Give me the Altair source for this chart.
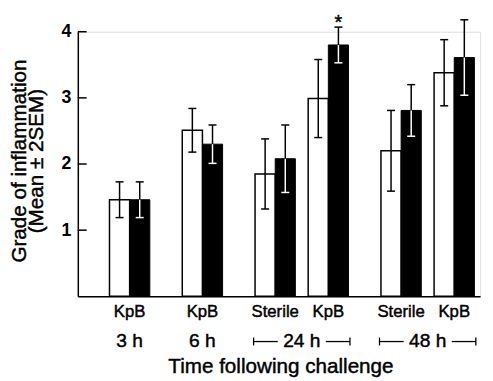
import altair as alt
import pandas as pd

# ---------------- data ----------------
time_points = ["3 h", "6 h", "24 h", "24 h", "48 h", "48 h"]
conditions = ["KpB", "KpB", "Sterile", "KpB", "Sterile", "KpB"]
open_mean = [1.46, 2.51, 1.85, 2.99, 2.20, 3.38]
open_err = [0.27, 0.33, 0.53, 0.59, 0.61, 0.50]
filled_mean = [1.46, 2.30, 2.08, 3.80, 2.81, 3.61]
filled_err = [0.27, 0.29, 0.51, 0.27, 0.39, 0.57]
significant = ["", "", "", "*", "", ""]
y_ticks = [1, 2, 3, 4]
y_title_lines = ["Grade of inflammation", "(Mean ± 2SEM)"]
x_title = "Time following challenge"

# ---------------- layout constants ----------------
GAP_BETWEEN = 1.0
GAP_WITHIN = 0.73
BAR_W = 0.277
CAP = 0.055
FONT = "Liberation Sans"
YTITLE_X = [-59, -41]
TXT_STROKE = 0.45

centers = []
pos = 0.0
for i, t in enumerate(time_points):
    if i == 0:
        pos = 1.0
    elif t == time_points[i - 1]:
        pos += GAP_WITHIN
    else:
        pos += GAP_BETWEEN
    centers.append(pos)

bars = []
errs = []
caps = []
for i, c in enumerate(centers):
    bars.append(dict(kind="open", x=c - BAR_W, x2=c, y=0, y2=open_mean[i]))
    bars.append(dict(kind="filled", x=c, x2=c + BAR_W, y=0, y2=filled_mean[i]))
    xo = c - BAR_W / 2
    xf = c + BAR_W / 2
    lo, hi = open_mean[i] - open_err[i], open_mean[i] + open_err[i]
    errs.append(dict(x=xo, y=lo, y2=hi, col="black"))
    caps.append(dict(x=xo - CAP, x2=xo + CAP, y=lo, col="black"))
    caps.append(dict(x=xo - CAP, x2=xo + CAP, y=hi, col="black"))
    lo, hi = filled_mean[i] - filled_err[i], filled_mean[i] + filled_err[i]
    errs.append(dict(x=xf, y=filled_mean[i], y2=hi, col="black"))
    errs.append(dict(x=xf, y=lo, y2=filled_mean[i], col="white"))
    caps.append(dict(x=xf - CAP, x2=xf + CAP, y=lo, col="white"))
    caps.append(dict(x=xf - CAP, x2=xf + CAP, y=hi, col="black"))

bars_df = pd.DataFrame(bars)
errs_df = pd.DataFrame(errs)
caps_df = pd.DataFrame(caps)
star_df = pd.DataFrame(dict(x=[c + BAR_W / 2 for c in centers],
                            y=[m + e for m, e in zip(filled_mean, filled_err)],
                            t=significant))
star_df = star_df[star_df.t != ""]
cond_df = pd.DataFrame(dict(x=centers, t=conditions))

single, groups = [], []
for t in dict.fromkeys(time_points):
    idx = [i for i, tt in enumerate(time_points) if tt == t]
    if len(idx) == 1:
        single.append(dict(x=centers[idx[0]], t=t))
    else:
        left = centers[idx[0]] - BAR_W - 0.02
        right = centers[idx[-1]] + BAR_W + 0.02
        groups.append(dict(left=left, right=right, mid=(left + right) / 2, t=t))
single_df = pd.DataFrame(single)
groups_df = pd.DataFrame(groups)
HALF = 0.33
seg_rows, end_rows = [], []
for g in groups:
    seg_rows.append(dict(x=g["left"], x2=g["mid"] - HALF))
    seg_rows.append(dict(x=g["mid"] + HALF, x2=g["right"]))
    end_rows.append(dict(x=g["left"]))
    end_rows.append(dict(x=g["right"]))
seg_df = pd.DataFrame(seg_rows)
end_df = pd.DataFrame(end_rows)
ticks_df = pd.DataFrame(dict(y=y_ticks))

W, H = 409, 269
xscale = alt.Scale(domain=[0.288, 5.815], nice=False, zero=False)
yscale = alt.Scale(domain=[0, 4], nice=False)

x_axis = alt.Axis(labels=False, ticks=False, grid=False, domainColor="black",
                  domainWidth=1.5, title=None)
y_axis = alt.Axis(values=y_ticks, format="d", ticks=False, grid=False, labelPadding=7,
                  labelFont=FONT, labelFontSize=18, labelFontWeight="bold",
                  labelColor="black",
                  domainColor="black", domainWidth=1.5, title=None)


def txt(df, size, **kw):
    return alt.Chart(df).mark_text(font=FONT, fontSize=size, color="black",
                                   stroke="black", strokeWidth=TXT_STROKE, **kw)


open_bars = alt.Chart(bars_df).transform_filter(alt.datum.kind == "open").mark_rect(
    fill="white", stroke="black", strokeWidth=1.5).encode(
    x=alt.X("x:Q", scale=xscale, axis=x_axis), x2="x2",
    y=alt.Y("y:Q", scale=yscale, axis=y_axis), y2="y2")
filled_bars = alt.Chart(bars_df).transform_filter(alt.datum.kind == "filled").mark_rect(
    fill="black", stroke="black", strokeWidth=1).encode(
    x="x:Q", x2="x2", y="y:Q", y2="y2")
err_lines = alt.Chart(errs_df).mark_rule(strokeWidth=1.5).encode(
    x="x:Q", y="y:Q", y2="y2", stroke=alt.Stroke("col:N", scale=None))
err_caps = alt.Chart(caps_df).mark_rule(strokeWidth=1.5).encode(
    x="x:Q", x2="x2", y="y:Q", stroke=alt.Stroke("col:N", scale=None))
stars = txt(star_df, 20, baseline="alphabetic", dy=2).encode(
    x="x:Q", y="y:Q", text="t:N")
yticks = alt.Chart(ticks_df).mark_rule(color="black", strokeWidth=1.5).encode(
    y="y:Q", x=alt.value(0), x2=alt.value(9))
cond_text = txt(cond_df, 17, baseline="middle").encode(
    x="x:Q", y=alt.value(285), text="t:N")
single_text = txt(single_df, 19.5, baseline="middle").encode(
    x="x:Q", y=alt.value(315), text="t:N")
group_text = txt(groups_df, 19.5, baseline="middle").encode(
    x="mid:Q", y=alt.value(315), text="t:N")
segs = alt.Chart(seg_df).mark_rule(color="black", strokeWidth=1.3).encode(
    x="x:Q", x2="x2", y=alt.value(315))
ends = alt.Chart(end_df).mark_rule(color="black", strokeWidth=1.3).encode(
    x="x:Q", y=alt.value(311), y2=alt.value(319))
xtitle = txt(pd.DataFrame(dict(t=[x_title])), 21, baseline="middle").encode(
    x=alt.value(W / 2 + 2), y=alt.value(341), text="t:N")

ytitles = []
for line, xpix in zip(y_title_lines, YTITLE_X):
    ytitles.append(txt(pd.DataFrame(dict(t=[line])), 21, angle=270,
                       baseline="middle").encode(
        x=alt.value(xpix), y=alt.value(H / 2 - 3), text="t:N"))

chart = alt.layer(open_bars, filled_bars, err_lines, err_caps, stars, yticks,
                  cond_text, single_text, group_text, segs, ends, xtitle,
                  *ytitles).properties(
    width=W, height=H,
    autosize=alt.AutoSizeParams(type="none"),
    padding={"left": 71, "top": 21, "right": 5, "bottom": 84},
).configure_view(stroke=None).configure(background="white")

chart.save("out.html", embed_options={"renderer": "svg", "actions": False})
